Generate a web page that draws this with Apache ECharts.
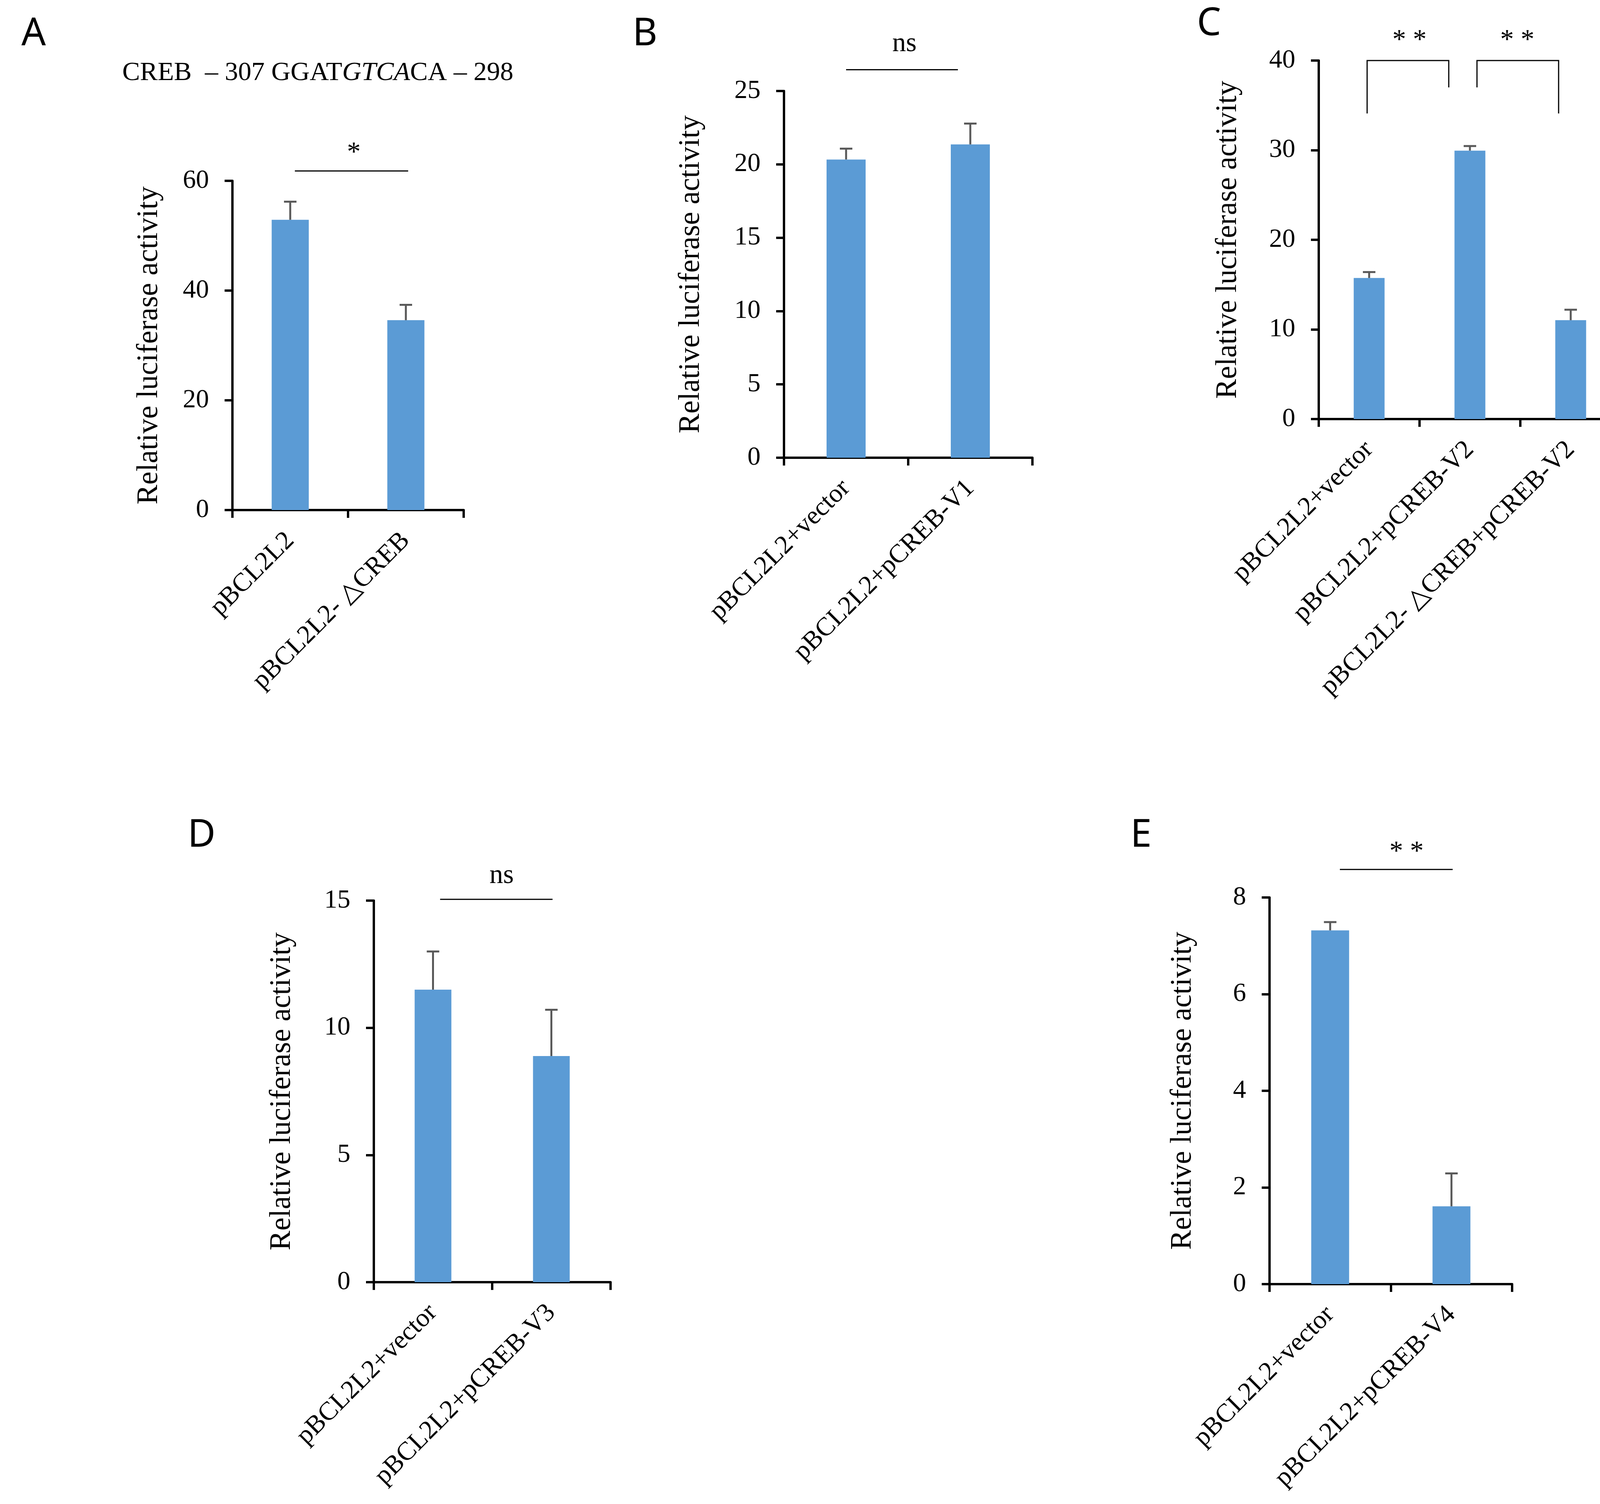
<!DOCTYPE html>
<html>
<head>
<meta charset="utf-8">
<script src="https://cdn.jsdelivr.net/npm/echarts@6/dist/echarts.min.js"></script>
<style>
html, body { margin: 0; padding: 0; background: #fff; }
#main { width: 4195px; height: 3851px; }
</style>
</head>
<body>
<div id="main"></div>
<script>
// data
var catsA = ['pBCL2L2', 'pBCL2L2- \u25B3CREB'];
var valsA = [52.9, 34.6];
var errA = [3.3, 2.8];

var catsB = ['pBCL2L2+vector', 'pBCL2L2+pCREB-V1'];
var valsB = [20.33, 21.36];
var errB = [0.74, 1.42];

var catsC = ['pBCL2L2+vector', 'pBCL2L2+pCREB-V2', 'pBCL2L2- \u25B3CREB+pCREB-V2'];
var valsC = [15.74, 29.95, 11.03];
var errC = [0.66, 0.51, 1.17];

var catsD = ['pBCL2L2+vector', 'pBCL2L2+pCREB-V3'];
var valsD = [11.5, 8.89];
var errD = [1.5, 1.82];

var catsE = ['pBCL2L2+vector', 'pBCL2L2+pCREB-V4'];
var valsE = [7.32, 1.61];
var errE = [0.17, 0.68];

// y axis ranges [max, step]
var axisA = [60, 20];
var axisB = [25, 5];
var axisC = [40, 10];
var axisD = [15, 5];
var axisE = [8, 2];

// significance marks: points as [category position, value], label text and where it sits
var sigA = [{ pts: [[0.04, 61.8], [1.02, 61.8]], text: '*', at: [0.55, 65.0] }];
var sigB = [{ pts: [[0, 26.45], [0.9, 26.45]], text: 'ns', at: [0.47, 28.2] }];
var sigC = [
    { pts: [[-0.02, 34.1], [-0.02, 40], [0.79, 40], [0.79, 37.0]], text: '* *', at: [0.40, 42.2] },
    { pts: [[1.07, 37.0], [1.07, 40], [1.88, 40], [1.88, 34.1]], text: '* *', at: [1.47, 42.2] }
];
var sigD = [{ pts: [[0.06, 15.05], [1.01, 15.05]], text: 'ns', at: [0.58, 15.97] }];
var sigE = [{ pts: [[0.08, 8.58], [1.01, 8.58]], text: '* *', at: [0.63, 8.93] }];

var serif = '"Liberation Serif", "Times New Roman", serif';
var barColor = '#5B9BD5';

var panels = [
    { cats: catsA, vals: valsA, errs: errA, axis: axisA, sig: sigA, grid: [595, 463, 592, 843], barWidth: 95, nameGap: 175 },
    { cats: catsB, vals: valsB, errs: errB, axis: axisB, sig: sigB, grid: [2007, 233, 636, 939], barWidth: 100, nameGap: 200 },
    { cats: catsC, vals: valsC, errs: errC, axis: axisC, sig: sigC, grid: [3376, 155, 774, 918], barWidth: 79, nameGap: 194 },
    { cats: catsD, vals: valsD, errs: errD, axis: axisD, sig: sigD, grid: [957, 2306, 606, 977], barWidth: 94, nameGap: 197 },
    { cats: catsE, vals: valsE, errs: errE, axis: axisE, sig: sigE, grid: [3250, 2298, 621, 990], barWidth: 97, nameGap: 184 }
];

var dom = document.getElementById('main');
var myChart = echarts.init(dom);

var grids = [], xAxes = [], yAxes = [], series = [];

panels.forEach(function (p, i) {
    grids.push({ left: p.grid[0], top: p.grid[1], width: p.grid[2], height: p.grid[3] });
    xAxes.push({
        type: 'category',
        gridIndex: i,
        data: p.cats,
        axisLine: { lineStyle: { color: '#000', width: 6 } },
        axisTick: { show: true, length: 20, lineStyle: { color: '#000', width: 6 } },
        axisLabel: { rotate: 45, interval: 0, margin: 68, fontFamily: serif, fontSize: 67, color: '#000' }
    });
    yAxes.push({
        type: 'value',
        gridIndex: i,
        min: 0,
        max: p.axis[0],
        interval: p.axis[1],
        name: 'Relative luciferase activity',
        nameLocation: 'middle',
        nameGap: p.nameGap,
        nameTextStyle: { fontFamily: serif, fontSize: 76, color: '#000' },
        axisLine: { show: true, lineStyle: { color: '#000', width: 6 } },
        axisTick: { show: true, length: 20, lineStyle: { color: '#000', width: 6 } },
        axisLabel: { margin: 60, fontFamily: serif, fontSize: 67, color: '#000' },
        splitLine: { show: false }
    });
    series.push({
        type: 'bar',
        xAxisIndex: i,
        yAxisIndex: i,
        data: p.vals,
        barWidth: p.barWidth,
        itemStyle: { color: barColor },
        z: 2
    });
    // error bars, upward only
    series.push({
        type: 'custom',
        xAxisIndex: i,
        yAxisIndex: i,
        z: 3,
        silent: true,
        encode: { x: 0, y: 1 },
        data: p.vals.map(function (v, k) { return [k, v, v + p.errs[k]]; }),
        renderItem: function (params, api) {
            var base = api.coord([api.value(0), api.value(1)]);
            var top = api.coord([api.value(0), api.value(2)]);
            var st = { stroke: '#595959', lineWidth: 5 };
            return {
                type: 'group',
                children: [
                    { type: 'line', shape: { x1: base[0], y1: base[1], x2: top[0], y2: top[1] }, style: st },
                    { type: 'line', shape: { x1: top[0] - 16, y1: top[1], x2: top[0] + 16, y2: top[1] }, style: st }
                ]
            };
        }
    });
    // significance lines and brackets
    series.push({
        type: 'custom',
        xAxisIndex: i,
        yAxisIndex: i,
        z: 4,
        silent: true,
        clip: false,
        encode: { x: 0, y: 1 },
        data: p.sig.map(function () { return [0, 0]; }),
        renderItem: function (params, api) {
            var m = p.sig[params.dataIndex];
            function pt(q) {
                var a = api.coord([0, q[1]]);
                var b = api.coord([1, q[1]]);
                return [a[0] + (b[0] - a[0]) * q[0], a[1]];
            }
            var lab = pt(m.at);
            return {
                type: 'group',
                children: [
                    { type: 'polyline', shape: { points: m.pts.map(pt) }, style: { stroke: '#000', lineWidth: 3, fill: null } },
                    { type: 'text', style: { text: m.text, x: lab[0], y: lab[1], align: 'center', verticalAlign: 'middle',
                        fontFamily: serif, fontSize: 70, fill: '#000' } }
                ]
            };
        }
    });
});

var letterFont = '"Noto Sans", "DejaVu Sans", sans-serif';
function letter(t, x, y) {
    return { type: 'text', x: x, y: y, style: { text: t, align: 'center', verticalAlign: 'middle',
        fontFamily: letterFont, fontSize: 98, fill: '#000' } };
}

option = {
    backgroundColor: '#fff',
    animation: false,
    grid: grids,
    xAxis: xAxes,
    yAxis: yAxes,
    series: series,
    graphic: [
        letter('A', 86, 88),
        letter('B', 1651, 88),
        letter('C', 3095, 62),
        letter('D', 516, 2140),
        letter('E', 2921, 2140),
        {
            type: 'text',
            x: 313,
            y: 187,
            style: {
                text: 'CREB  \u2013 307 GGAT{i|GTCA}CA \u2013 298',
                verticalAlign: 'middle',
                fontFamily: serif,
                fontSize: 68,
                fill: '#000',
                rich: {
                    i: { fontStyle: 'italic', fontFamily: serif, fontSize: 68, fill: '#000' }
                }
            }
        }
    ]
};

if (option && typeof option === 'object') {
    myChart.setOption(option, true);
}
</script>
</body>
</html>
